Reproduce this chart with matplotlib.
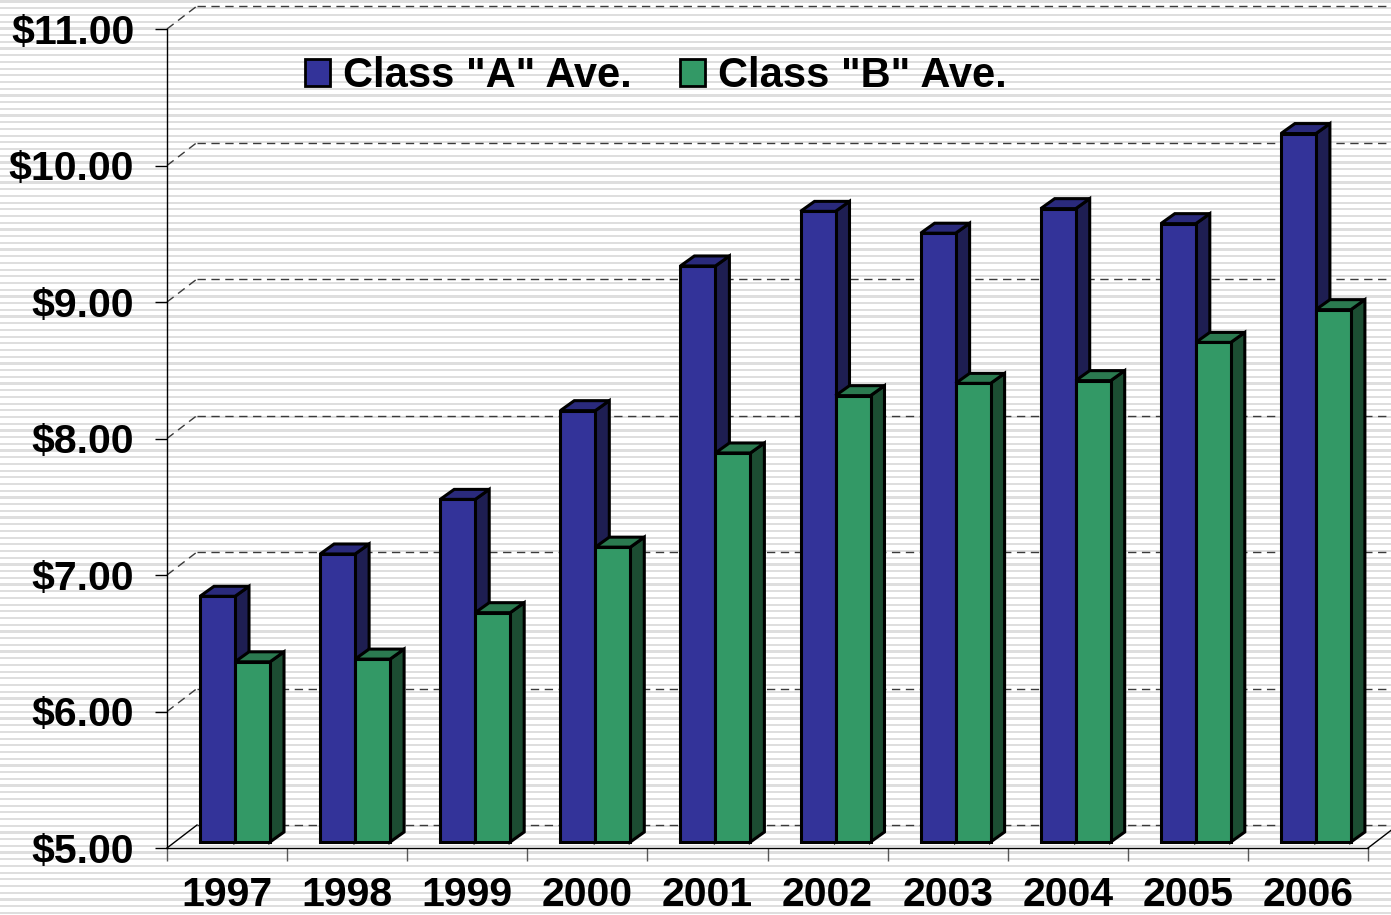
# %%
# Class A / Class B average, 3D-style column chart
import numpy as np
import matplotlib.pyplot as plt
from matplotlib.patches import Polygon, Patch

plt.rcParams['font.family'] = ['Liberation Sans', 'DejaVu Sans']

# %%
# data
years = ['1997', '1998', '1999', '2000', '2001', '2002', '2003', '2004', '2005', '2006']
class_a = [6.80, 7.11, 7.51, 8.16, 9.22, 9.62, 9.46, 9.64, 9.53, 10.19]
class_b = [6.32, 6.34, 6.68, 7.16, 7.85, 8.27, 8.36, 8.38, 8.66, 8.90]
series_names = ['Class "A" Ave.', 'Class "B" Ave.']
y_ticks = [5, 6, 7, 8, 9, 10, 11]
y_tick_labels = ['$5.00', '$6.00', '$7.00', '$8.00', '$9.00', '$10.00', '$11.00']

# colours: front, side, top
a_cols = ('#333399', '#1e1e52', '#2a2a7c')
b_cols = ('#339966', '#1c4d32', '#2b7a50')

# %%
W, H = 1391, 915
fig = plt.figure(figsize=(W / 100, H / 100), dpi=100)
fig.patch.set_facecolor('white')

# striped background
bg = fig.add_axes([0, 0, 1, 1], zorder=-1)
rows = np.arange(H)
phase = (rows % 6.7) / 6.7
stripes = np.where(phase < 0.33, 0.87, 1.0)[:, None]
bg.imshow(stripes, cmap='gray', vmin=0, vmax=1, aspect='auto',
          interpolation='nearest', extent=[0, 1, 0, 1])
bg.axis('off')

# plot area (front axes) in pixels: x 167..1368, y 848..29
ax = fig.add_axes([167 / W, (H - 848) / H, (1368 - 167) / W, (848 - 29) / H])
ax.patch.set_visible(False)
n = len(years)
ax.set_xlim(0, n)
ax.set_ylim(y_ticks[0], y_ticks[-1])

px_x = n / (1368 - 167)
px_y = (y_ticks[-1] - y_ticks[0]) / (848 - 29)

# back wall / floor depth
wall_dx, wall_dy = 30 * px_x, 23 * px_y
for v in y_ticks:
    ls = '-' if v == y_ticks[0] else (0, (6, 4))
    col = 'black' if v == y_ticks[0] else '#3a3a3a'
    ax.plot([0, wall_dx], [v, v + wall_dy], color=col, lw=1, ls=ls,
            clip_on=False, zorder=1)
    ax.plot([wall_dx, n + 0.3], [v + wall_dy, v + wall_dy], color='#3a3a3a',
            lw=1, ls=(0, (6, 4)), clip_on=False, zorder=1)
ax.plot([n, n + wall_dx], [y_ticks[0], y_ticks[0] + wall_dy], color='black',
        lw=1, clip_on=False, zorder=1)

# %%
# bars: front face with ax.bar, side and top as polygons
lift = 6 * px_y
bar_w = 35 * px_x
off = 33 * px_x
bdx, bdy = 14 * px_x, 10 * px_y
idx = np.arange(n)
base = y_ticks[0]

for k, (vals, cols) in enumerate([(class_a, a_cols), (class_b, b_cols)]):
    x0 = idx + off + k * bar_w
    ax.bar(x0, np.array(vals) - base, bottom=base + lift, width=bar_w, align='edge',
           color=cols[0], edgecolor='black', lw=2.2, zorder=3 + 2 * k)
    for xl, v in zip(x0, vals):
        xr = xl + bar_w
        top = v + lift
        bot = base + lift
        side = Polygon([(xr, bot), (xr + bdx, bot + bdy), (xr + bdx, top + bdy), (xr, top)],
                       closed=True, facecolor=cols[1], edgecolor='black', lw=2.2,
                       joinstyle='miter', zorder=2.9 + 2 * k)
        lid = Polygon([(xl, top), (xl + bdx, top + bdy), (xr + bdx, top + bdy), (xr, top)],
                      closed=True, facecolor=cols[2], edgecolor='black', lw=2.2,
                      joinstyle='miter', zorder=2.9 + 2 * k)
        ax.add_patch(side)
        ax.add_patch(lid)

# %%
# axes, ticks, labels
for s in ['top', 'right']:
    ax.spines[s].set_visible(False)
for s in ['left', 'bottom']:
    ax.spines[s].set_color('black')
    ax.spines[s].set_linewidth(1)
    ax.spines[s].set_zorder(2)

ax.set_yticks(y_ticks)
ax.set_yticklabels(y_tick_labels, fontsize=29.5, fontweight='bold')
ax.tick_params(axis='y', direction='out', length=8.6, width=1, color='black', pad=15)

ax.set_xticks(np.arange(n + 1))
ax.set_xticklabels([])
ax.set_xticks(idx + 0.5, minor=True)
ax.set_xticklabels(years, minor=True, fontsize=29.5, fontweight='bold')
ax.tick_params(axis='x', which='major', direction='out', length=9.4, width=1, color='#555555')
ax.tick_params(axis='x', which='minor', length=0, pad=20)

handles = [Patch(facecolor=a_cols[0], edgecolor='black', lw=2),
           Patch(facecolor=b_cols[0], edgecolor='black', lw=2)]
ax.legend(handles, series_names, ncol=2, frameon=False,
          prop={'size': 30, 'weight': 'bold'},
          handlelength=0.6, handleheight=0.6, handletextpad=0.32,
          columnspacing=1.15, borderpad=0, borderaxespad=0,
          loc='center left', bbox_to_anchor=(305 / W, 1 - 76 / H),
          bbox_transform=fig.transFigure)

fig.savefig('out.png', dpi=100)
